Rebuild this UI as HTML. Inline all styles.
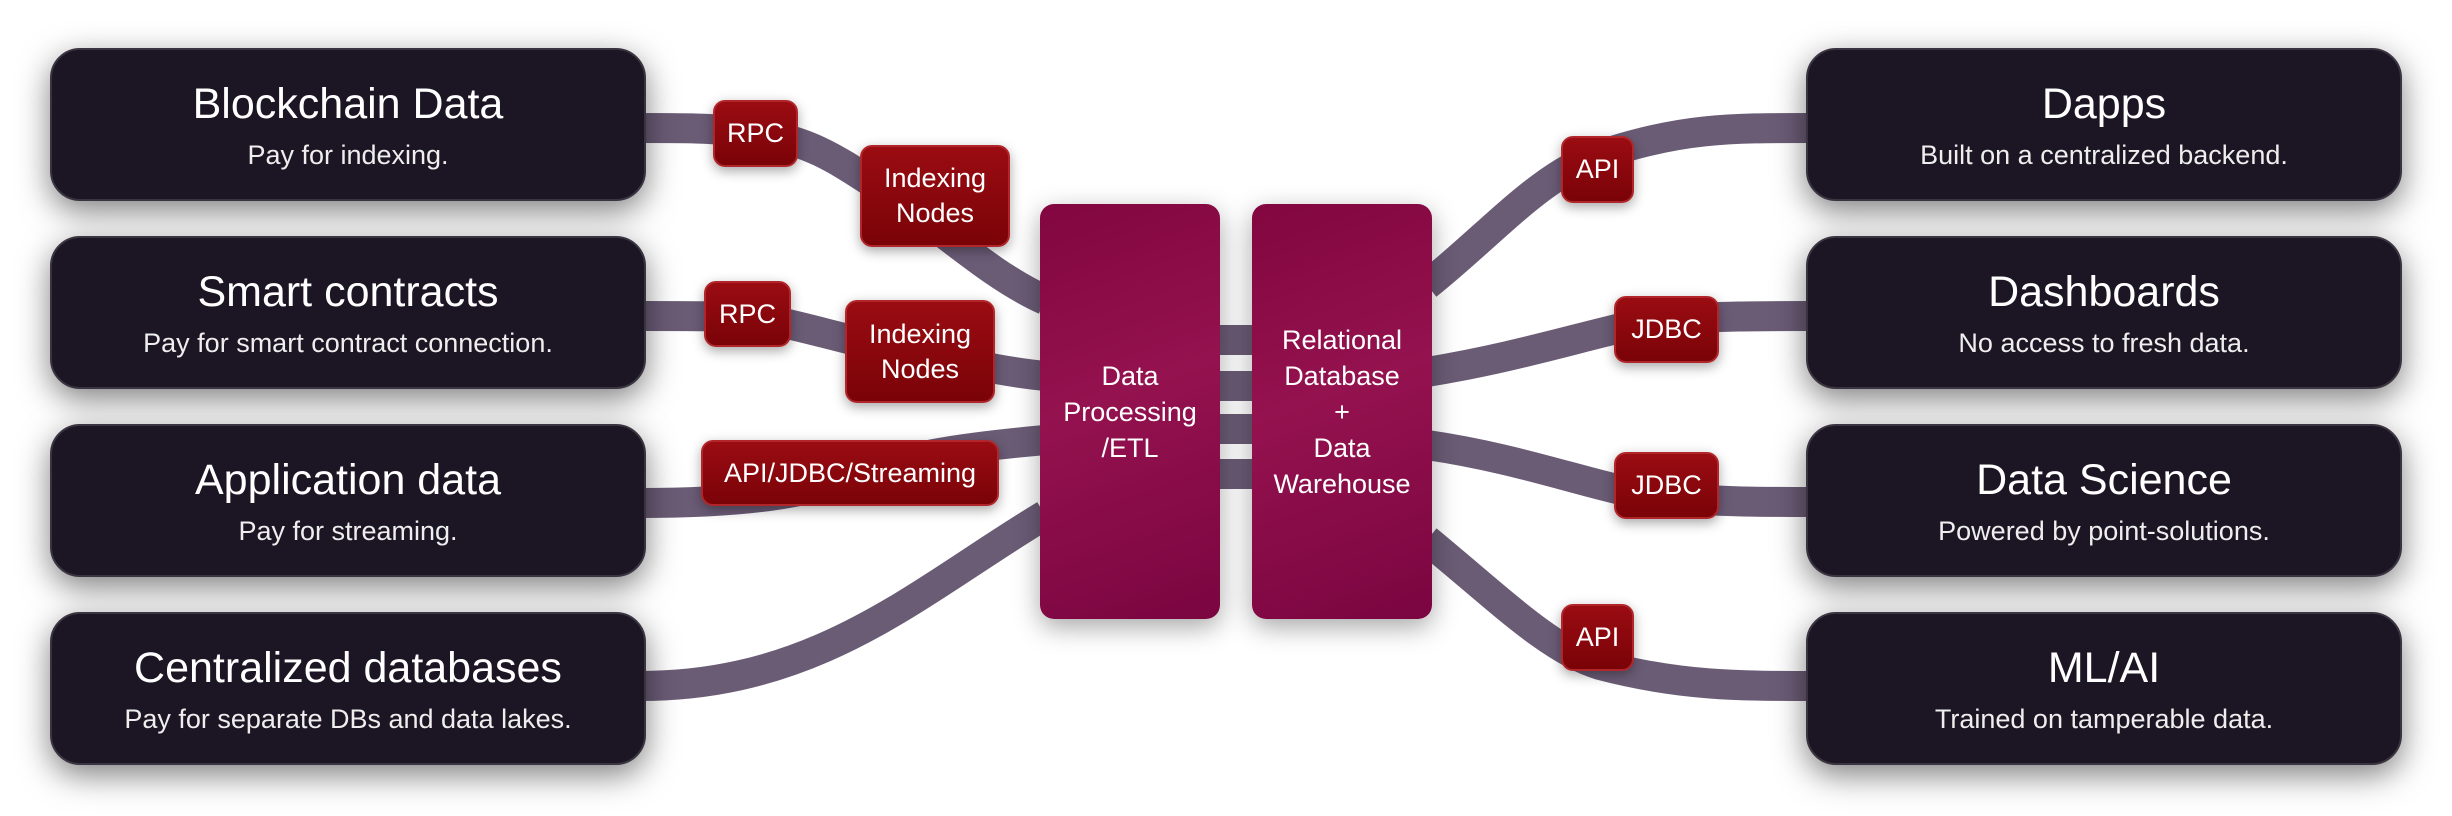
<!DOCTYPE html>
<html><head><meta charset="utf-8"><style>
body{margin:0;width:2452px;height:816px;background:#fff;position:relative;overflow:hidden;font-family:"Liberation Sans",sans-serif;}
.box{position:absolute;width:596px;height:153px;background:#1c1624;border-radius:30px;box-shadow:0 10px 32px rgba(0,0,0,0.5);color:#fff;text-align:center;border:2px solid #3a3340;box-sizing:border-box;}
.box .t{position:absolute;left:0;right:0;top:28px;font-size:43px;line-height:52px;}
.box .s{position:absolute;left:0;right:0;top:87px;font-size:27px;line-height:36px;color:#eee;}
.ctr{position:absolute;top:204px;width:180px;height:415px;border-radius:14px;background:linear-gradient(160deg,#82063f 0%,#94124f 45%,#7a0540 100%);box-shadow:0 8px 26px rgba(0,0,0,0.35);color:#fff;font-size:27px;line-height:36px;text-align:center;display:flex;align-items:center;justify-content:center;}
.b{position:absolute;background:linear-gradient(180deg,#9a0c12,#7a0308);border:2px solid #b0262a;border-radius:12px;box-sizing:border-box;color:#fff;font-size:27px;line-height:35px;text-align:center;display:flex;align-items:center;justify-content:center;box-shadow:0 4px 12px rgba(0,0,0,0.35);white-space:nowrap;}
</style></head><body>
<svg width="2452" height="816" style="position:absolute;left:0;top:0">
<g fill="none" stroke="#6b5c76" stroke-width="30" stroke-linecap="butt">
<path d="M640,128 C690,128 720,128 760,134 C820,142 850,170 900,200 C960,245 1000,280 1045,300"/>
<path d="M640,316 C690,316 720,316 760,318 C820,330 850,342 910,352 C970,364 1005,372 1045,376"/>
<path d="M640,503 C700,503 800,500 850,475 C920,452 990,445 1045,440"/>
<path d="M640,686 C820,686 920,590 1045,515"/>
<path d="M1215,340 H1257 M1215,386 H1257 M1215,429 H1257 M1215,474 H1257"/>
<path d="M1427,285 C1490,235 1540,175 1600,155 C1680,128 1730,128 1810,128"/>
<path d="M1427,372 C1530,355 1600,330 1660,320 C1720,316 1760,316 1810,316"/>
<path d="M1427,445 C1530,460 1600,490 1660,497 C1720,502 1760,502 1810,502"/>
<path d="M1427,540 C1500,600 1550,650 1600,665 C1680,686 1740,686 1810,686"/>
</g></svg>

<div class="box" style="left:50px;top:48px"><div class="t">Blockchain Data</div><div class="s">Pay for indexing.</div></div>
<div class="box" style="left:50px;top:236px"><div class="t">Smart contracts</div><div class="s">Pay for smart contract connection.</div></div>
<div class="box" style="left:50px;top:424px"><div class="t">Application data</div><div class="s">Pay for streaming.</div></div>
<div class="box" style="left:50px;top:612px"><div class="t">Centralized databases</div><div class="s">Pay for separate DBs and data lakes.</div></div>

<div class="box" style="left:1806px;top:48px"><div class="t">Dapps</div><div class="s">Built on a centralized backend.</div></div>
<div class="box" style="left:1806px;top:236px"><div class="t">Dashboards</div><div class="s">No access to fresh data.</div></div>
<div class="box" style="left:1806px;top:424px"><div class="t">Data Science</div><div class="s">Powered by point-solutions.</div></div>
<div class="box" style="left:1806px;top:612px"><div class="t">ML/AI</div><div class="s">Trained on tamperable data.</div></div>

<div class="ctr" style="left:1040px">Data<br>Processing<br>/ETL</div>
<div class="ctr" style="left:1252px">Relational<br>Database<br>+<br>Data<br>Warehouse</div>

<div class="b" style="left:713px;top:100px;width:85px;height:67px">RPC</div>
<div class="b" style="left:860px;top:145px;width:150px;height:102px">Indexing<br>Nodes</div>
<div class="b" style="left:704px;top:281px;width:87px;height:66px">RPC</div>
<div class="b" style="left:845px;top:300px;width:150px;height:103px">Indexing<br>Nodes</div>
<div class="b" style="left:701px;top:440px;width:298px;height:66px">API/JDBC/Streaming</div>

<div class="b" style="left:1561px;top:136px;width:73px;height:67px">API</div>
<div class="b" style="left:1614px;top:296px;width:105px;height:67px">JDBC</div>
<div class="b" style="left:1614px;top:452px;width:105px;height:67px">JDBC</div>
<div class="b" style="left:1561px;top:604px;width:73px;height:67px">API</div>
</body></html>
